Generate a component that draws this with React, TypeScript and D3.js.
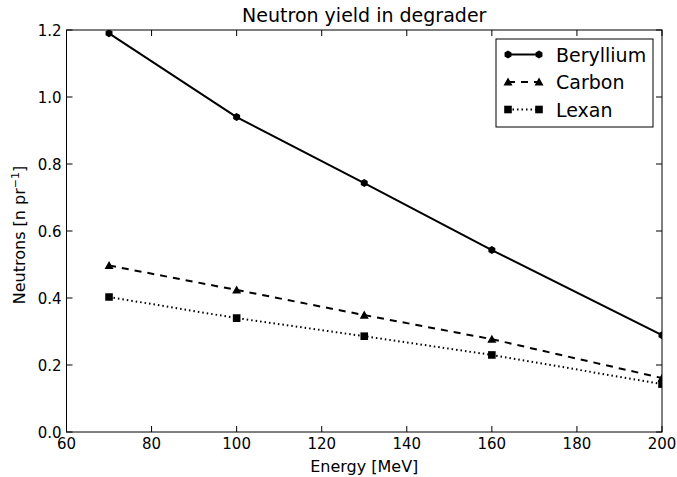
import { useEffect, useRef } from 'react';
import * as d3 from 'd3';

const energies = [70, 100, 130, 160, 200];
const beryllium = [1.19, 0.94, 0.743, 0.543, 0.289];
const carbon = [0.497, 0.424, 0.349, 0.277, 0.161];
const lexan = [0.403, 0.34, 0.286, 0.23, 0.143];
const xTicks = [60, 80, 100, 120, 140, 160, 180, 200];
const yTicks = [0.0, 0.2, 0.4, 0.6, 0.8, 1.0, 1.2];

const series = [
  { name: 'Beryllium', values: beryllium, dash: null, marker: 'hex' },
  { name: 'Carbon', values: carbon, dash: '7,6', marker: 'tri' },
  { name: 'Lexan', values: lexan, dash: '1.5,3', marker: 'sq' },
];

const W = 677;
const H = 477;
const margin = { top: 30, right: 15, bottom: 45, left: 66.5 };

function markerPath(kind: string, x: number, y: number) {
  if (kind === 'hex') {
    const r = 4;
    const pts = d3.range(6).map((i) => {
      const a = (Math.PI / 3) * i + Math.PI / 6;
      return [x + r * Math.cos(a), y + r * Math.sin(a)];
    });
    return 'M' + pts.map((p) => p.join(',')).join('L') + 'Z';
  }
  if (kind === 'tri') {
    const r = 4.5;
    return `M${x},${y - r}L${x + r},${y + r * 0.8}L${x - r},${y + r * 0.8}Z`;
  }
  const s = 3.8;
  return `M${x - s},${y - s}L${x + s},${y - s}L${x + s},${y + s}L${x - s},${y + s}Z`;
}

const App = () => {
  const ref = useRef<SVGSVGElement>(null);

  useEffect(() => {
    const svg = d3.select(ref.current);
    svg.selectAll('*').remove();
    const iw = W - margin.left - margin.right;
    const ih = H - margin.top - margin.bottom;

    const x = d3.scaleLinear().domain([60, 200]).range([0, iw]);
    const y = d3.scaleLinear().domain([0, 1.2]).range([ih, 0]);

    svg.append('rect').attr('width', W).attr('height', H).attr('fill', 'white');

    svg.append('defs').append('clipPath').attr('id', 'plotclip')
      .append('rect').attr('width', iw).attr('height', ih);

    const g = svg.append('g').attr('transform', `translate(${margin.left},${margin.top})`);

    // ticks (inward, all sides)
    xTicks.forEach((t) => {
      const px = x(t);
      g.append('line').attr('x1', px).attr('x2', px).attr('y1', ih).attr('y2', ih - 6).attr('stroke', 'black');
      g.append('line').attr('x1', px).attr('x2', px).attr('y1', 0).attr('y2', 6).attr('stroke', 'black');
      g.append('text').attr('x', px).attr('y', ih + 17).attr('text-anchor', 'middle')
        .attr('font-size', 15).text(t);
    });
    yTicks.forEach((t) => {
      const py = y(t);
      g.append('line').attr('x1', 0).attr('x2', 6).attr('y1', py).attr('y2', py).attr('stroke', 'black');
      g.append('line').attr('x1', iw).attr('x2', iw - 6).attr('y1', py).attr('y2', py).attr('stroke', 'black');
      g.append('text').attr('x', -5).attr('y', py + 5.5).attr('text-anchor', 'end')
        .attr('font-size', 15).text(t.toFixed(1));
    });

    const plot = g.append('g').attr('clip-path', 'url(#plotclip)');
    const line = d3.line<number>().x((_, i) => x(energies[i])).y((d) => y(d));

    series.forEach((s) => {
      plot.append('path').attr('d', line(s.values) as string).attr('fill', 'none')
        .attr('stroke', 'black').attr('stroke-width', 2)
        .attr('stroke-dasharray', s.dash);
      s.values.forEach((v, i) => {
        plot.append('path').attr('d', markerPath(s.marker, x(energies[i]), y(v))).attr('fill', 'black');
      });
    });

    g.append('rect').attr('width', iw).attr('height', ih).attr('fill', 'none')
      .attr('stroke', 'black').attr('stroke-width', 1);

    // legend
    const lg = g.append('g').attr('transform', `translate(${496 - margin.left},${39 - margin.top})`);
    lg.append('rect').attr('width', 157).attr('height', 88).attr('fill', 'white')
      .attr('stroke', 'black').attr('stroke-width', 1);
    series.forEach((s, i) => {
      const ly = 15.5 + i * 27.5;
      lg.append('line').attr('x1', 12).attr('x2', 43).attr('y1', ly).attr('y2', ly)
        .attr('stroke', 'black').attr('stroke-width', 2).attr('stroke-dasharray', s.dash);
      lg.append('path').attr('d', markerPath(s.marker, 12, ly)).attr('fill', 'black');
      lg.append('path').attr('d', markerPath(s.marker, 43, ly)).attr('fill', 'black');
      lg.append('text').attr('x', 60).attr('y', ly + 7).attr('font-size', 19).text(s.name);
    });

    g.append('text').attr('x', iw / 2).attr('y', -8).attr('text-anchor', 'middle')
      .attr('font-size', 19).text('Neutron yield in degrader');
    g.append('text').attr('x', iw / 2).attr('y', ih + 40).attr('text-anchor', 'middle')
      .attr('font-size', 16).text('Energy [MeV]');
    const yl = g.append('text').attr('transform', `translate(-41.5,${ih / 2 + 4}) rotate(-90)`)
      .attr('text-anchor', 'middle').attr('font-size', 16);
    yl.append('tspan').text('Neutrons [n pr');
    yl.append('tspan').attr('dy', -6).attr('font-size', 11).text('−1');
    yl.append('tspan').attr('dy', 6).text(']');
  }, []);

  return (
    <svg ref={ref} width={W} height={H}
      style={{ position: 'absolute', left: 0, top: 0, fontFamily: 'DejaVu Sans' }} />
  );
};

export default App;
